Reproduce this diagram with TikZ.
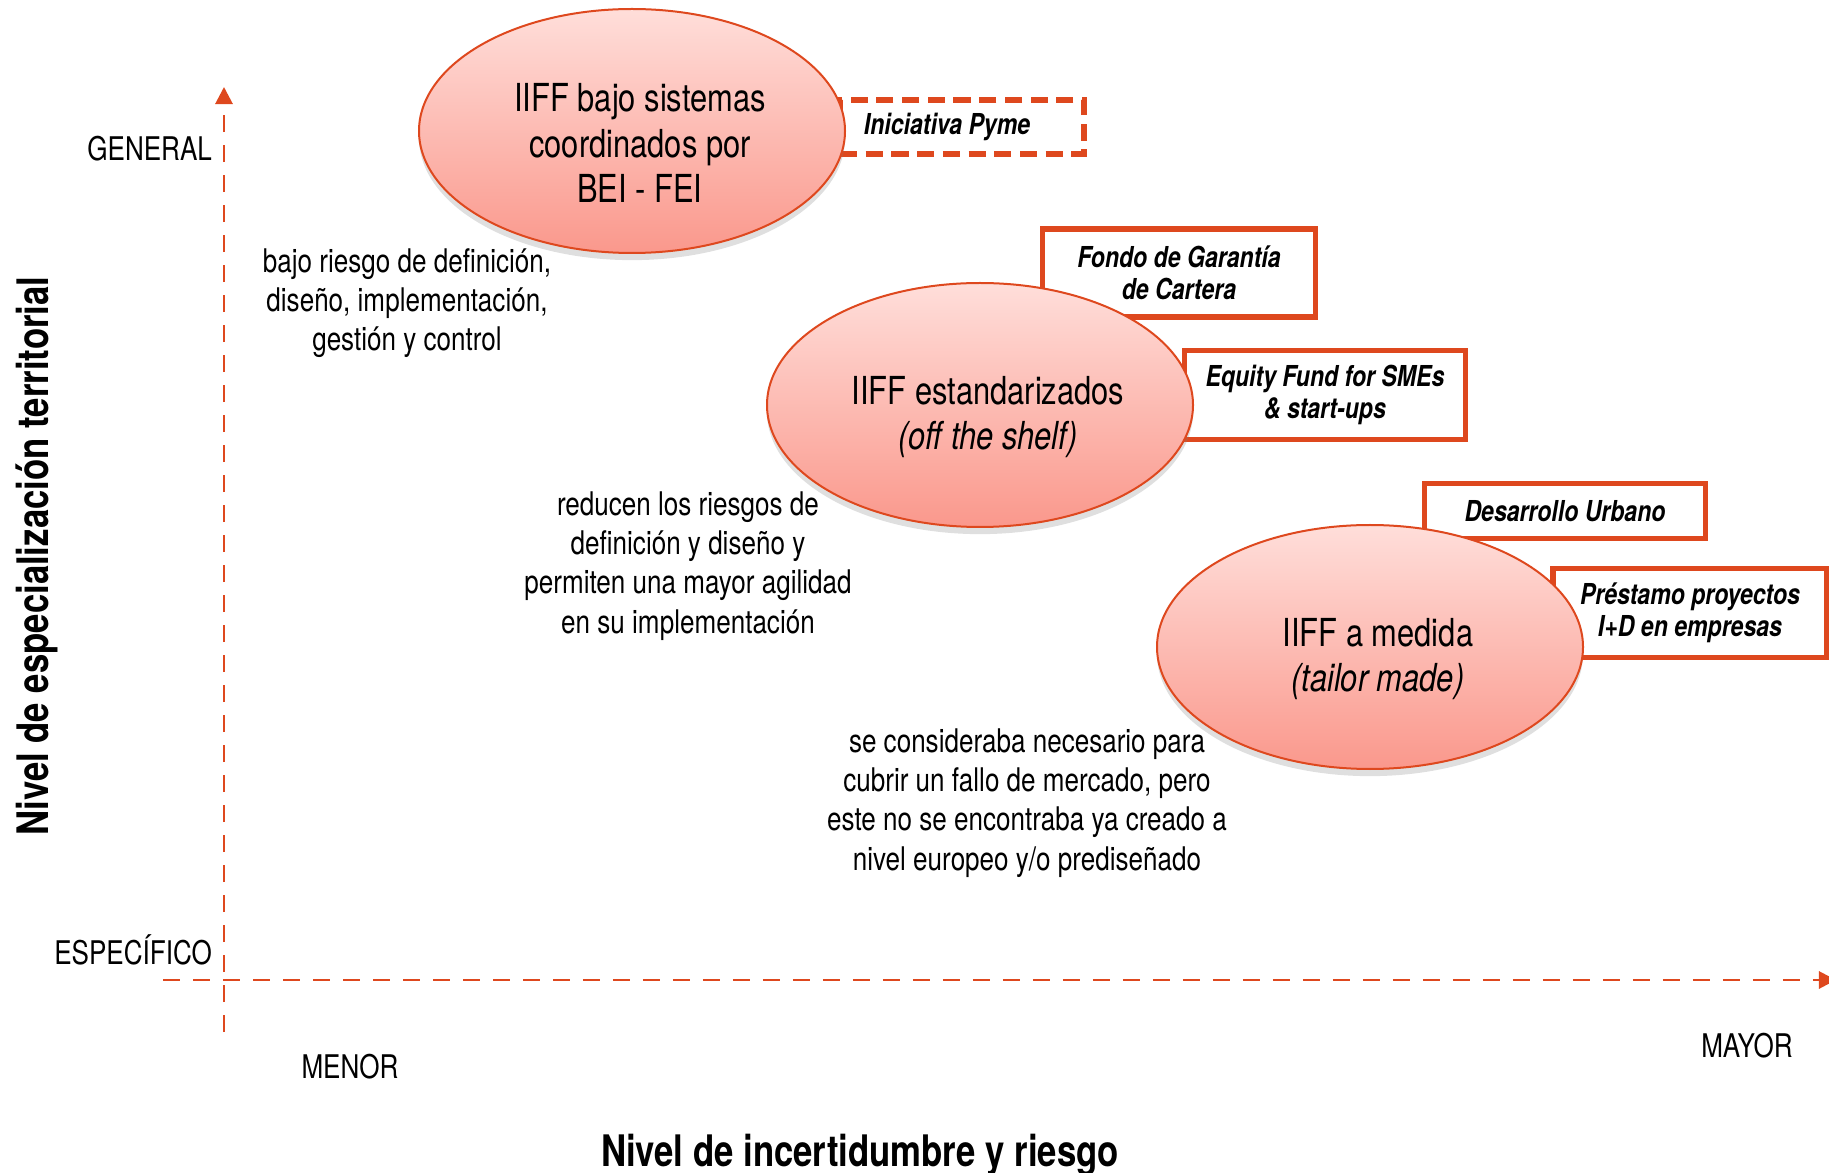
\documentclass[tikz,border=0pt]{standalone}
\usepackage{fontspec}
\setmainfont{TeX Gyre Heros}[FakeStretch=0.80]
\usepackage{xcolor}
\usepackage{tikz}
\usetikzlibrary{shapes.geometric,arrows.meta,shadows}
\definecolor{ifred}{RGB}{222,72,30}
\definecolor{iftop}{RGB}{255,222,218}
\definecolor{ifbot}{RGB}{250,152,140}

\begin{document}
\begin{tikzpicture}[x=0.35pt, y=-0.35pt,
    every node/.style={text centered, align=center},
    blob/.style={ellipse, draw=ifred, line width=0.7pt, top color=iftop, bottom color=ifbot,
                 drop shadow={opacity=0.25, shadow xshift=0pt, shadow yshift=-2.5pt},
                 minimum width=426*0.35pt, minimum height=244*0.35pt, inner sep=0pt},
    blobtext/.style={font=\fontsize{13.5}{15.8}\selectfont, xshift=8*0.35pt, yshift=-12*0.35pt},
    tag/.style={draw=ifred, line width=1.8pt, fill=white, inner sep=0pt,
                font=\fontsize{10.1}{11.2}\selectfont\bfseries\itshape},
    note/.style={font=\fontsize{11.4}{13.7}\selectfont},
    axis/.style={draw=ifred, line width=1pt, dash pattern=on 6pt off 4.5pt}]
        \useasboundingbox (0,0) rectangle (1829,1173);

        % ejes
        \coordinate (ytop) at (224,87);
        \coordinate (ybot) at (224,1032);
        \coordinate (xleft) at (163,980);
        \coordinate (xright) at (1836,980);
        \draw[axis, -{Triangle[length=6pt,width=6pt,fill=ifred]}] (ybot) -- (ytop);
        \draw[axis, -{Triangle[length=6pt,width=6pt,fill=ifred]}] (xleft) -- (xright);

        \node[note, anchor=east] (general) at (222,149) {GENERAL};
        \node[note, anchor=east] (especifico) at (222,950) {ESPECÍFICO};
        \node[note] (menor) at (350,1067) {MENOR};
        \node[note] (mayor) at (1747,1046) {MAYOR};
        \node[font=\fontsize{15.2}{18}\selectfont\bfseries] (xlabel) at (860,1155) {Nivel de incertidumbre y riesgo};
        \node[font=\fontsize{15.2}{18}\selectfont\bfseries, rotate=90] (ylabel) at (37,556) {Nivel de especialización territorial};

        % instrumentos
        \node[tag, dash pattern=on 6pt off 3pt, minimum width=244*0.35pt, minimum height=54*0.35pt] (pyme) at (962,127) {Iniciativa Pyme\hspace*{10.5pt}};
        \node[tag, minimum width=273*0.35pt, minimum height=88*0.35pt] (fondo) at (1179,273) {Fondo de Garantía\\de Cartera};
        \node[tag, minimum width=281*0.35pt, minimum height=89*0.35pt] (equity) at (1325,395) {Equity Fund for SMEs\\\& start-ups};
        \node[tag, minimum width=281*0.35pt, minimum height=55*0.35pt] (urbano) at (1565,511) {Desarrollo Urbano};
        \node[tag, minimum width=274*0.35pt, minimum height=89*0.35pt] (idi) at (1690,613) {Préstamo proyectos\\I+D en empresas};

        % tipos de IIFF
        \node[blob] (bei) at (632,131) {};
        \node[blob] (standard) at (980,405) {};
        \node[blob] (tailor) at (1370,647) {};
        \node[blobtext] (beitxt) at (bei) {IIFF bajo sistemas\\coordinados por\\BEI - FEI};
        \node[blobtext] (standardtxt) at (standard) {IIFF estandarizados\\\textit{(off the shelf)}};
        \node[blobtext] (tailortxt) at (tailor) {IIFF a medida\\\textit{(tailor made)}};

        \node[note] (riesgo1) at (407,303) {bajo riesgo de definición,\\diseño, implementación,\\gestión y control};
        \node[note] (riesgo2) at (688,566) {reducen los riesgos de\\definición y diseño y\\permiten una mayor agilidad\\en su implementación};
        \node[note] (riesgo3) at (1027,803) {se consideraba necesario para\\cubrir un fallo de mercado, pero\\este no se encontraba ya creado a\\nivel europeo y/o prediseñado};
    \end{tikzpicture}
\end{document}
